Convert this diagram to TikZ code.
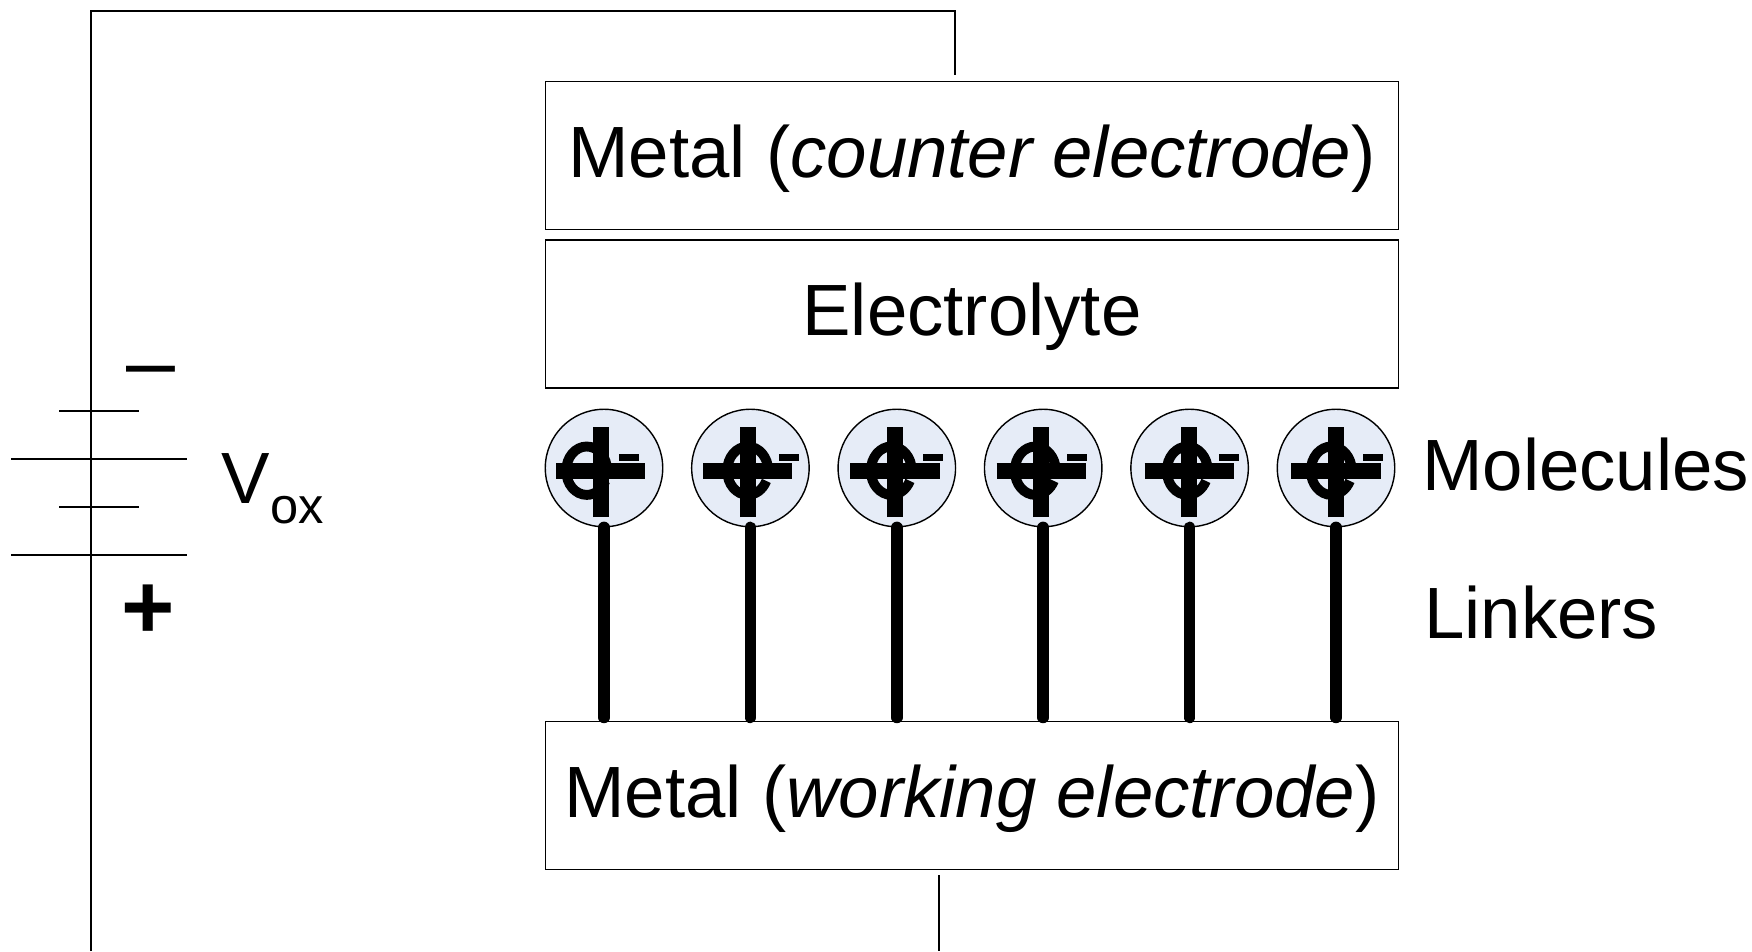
\documentclass[tikz,border=0pt]{standalone}
\usepackage{fontspec}
\setmainfont{Liberation Sans}
\usepackage{tikz}
\definecolor{molfill}{HTML}{E6ECF7}
\newcommand{\biglabel}{\fontsize{20.65}{24}\selectfont}
\tikzset{
  layerbox/.style={draw,line width=0.4pt,minimum width=8.52cm,minimum height=1.48cm,inner sep=0pt,
    text height=0.5cm,text depth=0.068cm,font=\biglabel},
  molecule/.style={circle,draw,line width=0.4pt,fill=molfill,minimum size=1.174cm,inner sep=0pt},
  sidelabel/.style={anchor=base west,inner sep=0pt,font=\biglabel},
  minuslabel/.style={inner sep=0pt,font=\fontsize{25}{28}\selectfont},
  pluslabel/.style={inner sep=0pt,font=\fontsize{26}{28}\selectfont\bfseries},
  wire/.style={line width=0.57pt},
  linker/.style={line width=3.3pt,line cap=round,shorten >=1pt},
  ringline/.style={line width=2.8pt},
  crossline/.style={line width=4.55pt},
  dashline/.style={line width=2pt}
}
\begin{document}
\begin{tikzpicture}[x=0.01cm,y=0.01cm]
\useasboundingbox (0,0) rectangle (1752,951);
% layers
\node[layerbox] (metalc) at (972,795.3) {Metal (\textit{counter electrode})};
\node[layerbox] (electrolyte) at (972,637) {Electrolyte};
\node[layerbox] (metalw) at (972,155.3) {Metal (\textit{working electrode})};
% circuit
\coordinate (wireb) at (90.7,0);
\coordinate (wirec) at (955,940);
\coordinate (wiree) at (955,876);
\coordinate (wirew) at (939,76);
\coordinate (wirez) at (939,0);
\draw[wire] (wireb) |- (wirec) -- (wiree);
\draw[wire] (wirew) -- (wirez);
\foreach \y in {540,444.3}
{       \draw[wire] (59,\y) -- (139,\y);
}
\foreach \y in {492.3,396}
{       \draw[wire] (11,\y) -- (187,\y);
}
\node[minuslabel] (minus) at (150.5,572.5) {–};
\node[pluslabel] (plus) at (148,339) {+};
\node[sidelabel] (vox) at (221,448) {V\raisebox{-0.2cm}{\fontsize{14.4}{16}\selectfont ox}};
% molecules and linkers
\foreach \molx/\barx/\ringx/\dashx [count=\i] in {604/600.7/586.7/619,750.4/747.7/747.7/779,
  896.8/894.8/891.3/923,1043.2/1041.3/1035.3/1067,1189.6/1189.2/1187.3/1219,1336/1336/1331.3/1363}
{       \node[molecule] (mol\i) at (\molx,483) {};
        \draw[ringline] (\ringx+20.5,480.3) arc[start angle=0,end angle=335,x radius=20.5,y radius=24.2];
        \draw[crossline] (\barx,434) -- (\barx,524);
        \draw[crossline] (\barx-44.7,479.7) -- (\barx+44.7,479.7);
        \draw[dashline] (\dashx,493.5) -- (\dashx+20,493.5);
        \draw[linker] (mol\i.south) -- (mol\i.south |- metalw.north);
}
\node[sidelabel] (molecules) at (1421.5,461) {Molecules};
\node[sidelabel] (linkers) at (1423.5,313) {Linkers};
\end{tikzpicture}
\end{document}
